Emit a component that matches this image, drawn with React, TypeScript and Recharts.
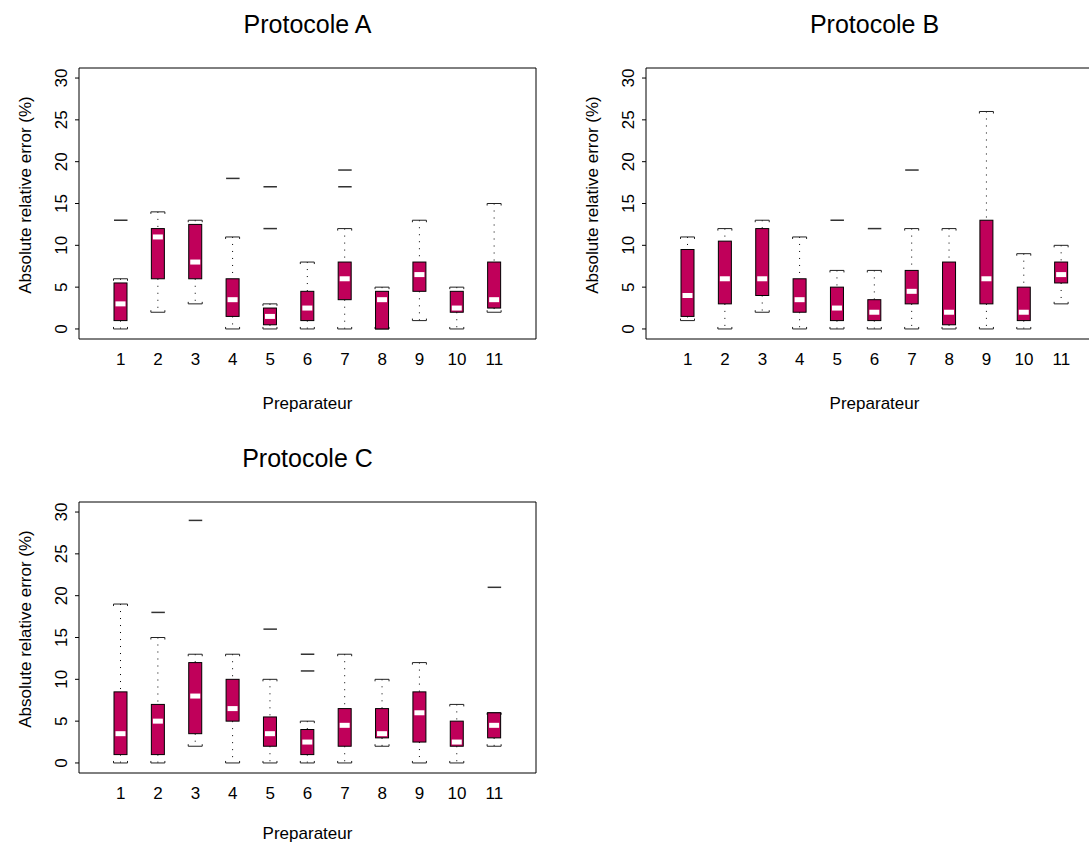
import React from 'react';
import { ComposedChart, Bar, XAxis, YAxis, Label } from 'recharts';

// ---------- data ----------
const categories = ['1', '2', '3', '4', '5', '6', '7', '8', '9', '10', '11'];
const yTicks = [0, 5, 10, 15, 20, 25, 30];

// Protocole A
const A_whiskerLow = [0, 2, 3, 0, 0, 0, 0, 0, 1, 0, 2];
const A_q1 = [1, 6, 6, 1.5, 0.5, 1, 3.5, 0, 4.5, 2, 2.5];
const A_median = [3, 11, 8, 3.5, 1.5, 2.5, 6, 3.5, 6.5, 2.5, 3.5];
const A_q3 = [5.5, 12, 12.5, 6, 2.5, 4.5, 8, 4.5, 8, 4.5, 8];
const A_whiskerHigh = [6, 14, 13, 11, 3, 8, 12, 5, 13, 5, 15];
const A_outliers = [[13], [], [], [18], [17, 12], [], [19, 17], [], [], [], []];

// Protocole B
const B_whiskerLow = [1, 0, 2, 0, 0, 0, 0, 0, 0, 0, 3];
const B_q1 = [1.5, 3, 4, 2, 1, 1, 3, 0.5, 3, 1, 5.5];
const B_median = [4, 6, 6, 3.5, 2.5, 2, 4.5, 2, 6, 2, 6.5];
const B_q3 = [9.5, 10.5, 12, 6, 5, 3.5, 7, 8, 13, 5, 8];
const B_whiskerHigh = [11, 12, 13, 11, 7, 7, 12, 12, 26, 9, 10];
const B_outliers = [[], [], [], [], [13], [12], [19], [], [], [], []];

// Protocole C
const C_whiskerLow = [0, 0, 2, 0, 0, 0, 0, 2, 0, 0, 2];
const C_q1 = [1, 1, 3.5, 5, 2, 1, 2, 3, 2.5, 2, 3];
const C_median = [3.5, 5, 8, 6.5, 3.5, 2.5, 4.5, 3.5, 6, 2.5, 4.5];
const C_q3 = [8.5, 7, 12, 10, 5.5, 4, 6.5, 6.5, 8.5, 5, 6];
const C_whiskerHigh = [19, 15, 13, 13, 10, 5, 13, 10, 12, 7, 6];
const C_outliers = [[], [18], [29], [], [16], [13, 11], [], [], [], [], [21]];

type Row = { cat: string; lo: number; q1: number; med: number; q3: number; hi: number; out: number[] };

function buildRows(lo: number[], q1: number[], med: number[], q3: number[], hi: number[], out: number[][]): Row[] {
  return categories.map((c, i) => ({ cat: c, lo: lo[i], q1: q1[i], med: med[i], q3: q3[i], hi: hi[i], out: out[i] }));
}

const rowsA = buildRows(A_whiskerLow, A_q1, A_median, A_q3, A_whiskerHigh, A_outliers);
const rowsB = buildRows(B_whiskerLow, B_q1, B_median, B_q3, B_whiskerHigh, B_outliers);
const rowsC = buildRows(C_whiskerLow, C_q1, C_median, C_q3, C_whiskerHigh, C_outliers);

// ---------- styles ----------
const FONT = '"Liberation Sans", Arial, Helvetica, sans-serif';
const BOX_FILL = '#C0005A';

const BoxShape = (props: any) => {
  const { x, y, width, height } = props;
  const p: Row = props.payload ?? props;
  const { lo, hi, q1, q3, med, out } = p;
  if (x == null || y == null || !isFinite(height)) return null;
  const k = height / (hi - lo);
  const py = (v: number) => y + (hi - v) * k;
  const cx = x + width / 2;
  const half = width / 2 + 0.5;
  const yHi = py(hi);
  const yLo = py(lo);
  const yQ3 = py(q3);
  const yQ1 = py(q1);
  const yMed = py(med);
  return (
    <g>
      {hi > q3 && <line x1={cx} x2={cx} y1={yHi} y2={yQ3} stroke="#000" strokeWidth={1} strokeDasharray="1 6" />}
      {q1 > lo && <line x1={cx} x2={cx} y1={yQ1} y2={yLo} stroke="#000" strokeWidth={1} strokeDasharray="1 6" />}
      <path d={`M${cx - half},${yHi + 2}L${cx - half},${yHi}L${cx + half},${yHi}L${cx + half},${yHi + 2}`} fill="none" stroke="#222" strokeWidth={1} />
      <path d={`M${cx - half},${yLo - 2}L${cx - half},${yLo}L${cx + half},${yLo}L${cx + half},${yLo - 2}`} fill="none" stroke="#222" strokeWidth={1} />
      <rect x={x} y={yQ3} width={width} height={Math.max(0, yQ1 - yQ3)} fill={BOX_FILL} stroke="#000" strokeWidth={1} />
      <rect x={x + 1.5} y={yMed - 2.5} width={width - 3} height={5} fill="#fff" />
      {out.map((o, i) => (
        <line key={i} x1={cx - 6.5} x2={cx + 7} y1={py(o)} y2={py(o)} stroke="#333" strokeWidth={1.5} />
      ))}
    </g>
  );
};

const NoShape = () => null;

const XTick = (props: any) => {
  const { x, y, payload } = props;
  return (
    <text x={x} y={y} dy="0.71em" textAnchor="middle" fontSize={17} fill="#000" fontFamily={FONT}>
      {payload.value}
    </text>
  );
};

const YTick = (props: any) => {
  const { x, y, payload } = props;
  const bx = x - 6;
  return (
    <text x={bx} y={y} transform={`rotate(-90 ${bx} ${y})`} textAnchor="middle" fontSize={17} fill="#000" fontFamily={FONT}>
      {payload.value}
    </text>
  );
};

type PanelProps = { title: string; rows: Row[]; left: number; top: number; xLabelDy: number };

function Panel({ title, rows, left, top, xLabelDy }: PanelProps) {
  const pad = { left: 23, right: 23 };
  return (
    <div style={{ position: 'absolute', left, top, width: 545, height: 430 }}>
      <ComposedChart width={545} height={430} data={rows} margin={{ top: 67, right: 8, bottom: 0, left: 0 }} barCategoryGap={0}>
        <XAxis
          xAxisId="b"
          dataKey="cat"
          orientation="bottom"
          height={91}
          padding={pad}
          axisLine={{ stroke: '#000' }}
          tickLine={false}
          tickSize={6}
          tickMargin={8}
          tick={<XTick />}
          interval={0}
        >
          <Label
            content={(lp: any) => {
              const vb = lp.viewBox || { x: 79, y: 339, width: 457, height: 91 };
              return (
                <text x={vb.x + vb.width / 2} y={vb.y + xLabelDy} textAnchor="middle" fontSize={17} fill="#000" fontFamily={FONT}>
                  Preparateur
                </text>
              );
            }}
          />
        </XAxis>
        <XAxis xAxisId="t" dataKey="cat" orientation="top" height={1} padding={pad} tick={false} tickLine={false} axisLine={{ stroke: '#000' }}>
          <Label
            content={(lp: any) => {
              const vb = lp.viewBox || { x: 79, y: 67, width: 457, height: 1 };
              return (
                <text x={vb.x + vb.width / 2} y={vb.y + vb.height - 35} textAnchor="middle" fontSize={25} fill="#000" fontFamily={FONT}>
                  {title}
                </text>
              );
            }}
          />
        </XAxis>
        <YAxis
          yAxisId="l"
          type="number"
          domain={[-1.2, 31.2]}
          allowDataOverflow
          ticks={yTicks}
          interval={0}
          width={79}
          axisLine={{ stroke: '#000' }}
          tickLine={{ stroke: '#000' }}
          tickSize={4}
          tickMargin={2}
          tick={<YTick />}
        >
          <Label
            content={(lp: any) => {
              const vb = lp.viewBox || { x: 0, y: 68, width: 79, height: 271 };
              const cx = vb.x + 31;
              const cy = vb.y + vb.height / 2 - 8.5;
              return (
                <text x={cx} y={cy} transform={`rotate(-90 ${cx} ${cy})`} textAnchor="middle" fontSize={17} fill="#000" fontFamily={FONT}>
                  Absolute relative error (%)
                </text>
              );
            }}
          />
        </YAxis>
        <YAxis yAxisId="r" orientation="right" type="number" domain={[-1.2, 31.2]} allowDataOverflow width={1} tick={false} tickLine={false} axisLine={{ stroke: '#000' }} />
        <Bar
          xAxisId="b"
          yAxisId="l"
          dataKey={(d: Row) => [d.lo, d.hi]}
          barSize={13}
          shape={<BoxShape />}
          isAnimationActive={false}
        />
        <Bar xAxisId="t" yAxisId="r" dataKey="hi" barSize={1} shape={<NoShape />} isAnimationActive={false} />
      </ComposedChart>
    </div>
  );
}

export default function App() {
  return (
    <div style={{ position: 'absolute', left: 0, top: 0, width: 1089, height: 844, overflow: 'hidden', background: '#fff', fontFamily: FONT }}>
      <Panel title="Protocole A" rows={rowsA} left={0} top={0} xLabelDy={70} />
      <Panel title="Protocole B" rows={rowsB} left={567} top={0} xLabelDy={70} />
      <Panel title="Protocole C" rows={rowsC} left={0} top={434} xLabelDy={66} />
    </div>
  );
}
